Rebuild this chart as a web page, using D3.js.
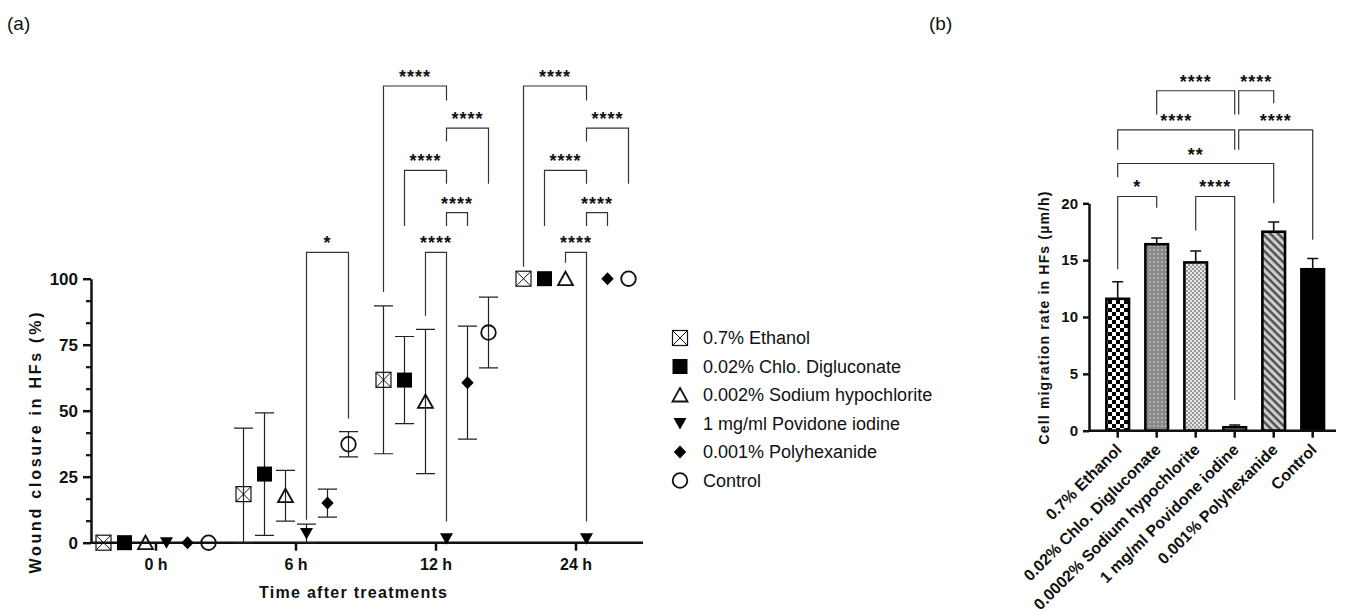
<!DOCTYPE html>
<html>
<head>
<meta charset="utf-8">
<script src="https://cdn.jsdelivr.net/npm/d3@7"></script>
<style>
  body { margin: 0; background: #fff; }
  svg text { font-family: Arial, "Liberation Sans", sans-serif; fill: #111; }
</style>
</head>
<body>
<div id="chart"></div>
<script>
// (a) wound closure over time
const times = ["0 h", "6 h", "12 h", "24 h"];
const treatments = ["0.7% Ethanol", "0.02% Chlo. Digluconate", "0.002% Sodium hypochlorite",
  "1 mg/ml Povidone iodine", "0.001% Polyhexanide", "Control"];
const closureMean = [
  [0, 18.4, 61.7, 100],
  [0, 26.0, 61.6, 100],
  [0, 17.8, 53.5, 100],
  [0, 3.5, 1.5, 1.5],
  [0, 15.0, 60.6, 100],
  [0, 37.3, 79.6, 100]
];
const closureSD = [
  [0, 25.0, 28.0, 0],
  [0, 23.2, 16.5, 0],
  [0, 9.6, 27.3, 0],
  [0, 3.5, 0, 0],
  [0, 5.3, 21.4, 0],
  [0, 4.8, 13.4, 0]
];
const closureTicks = [0, 25, 50, 75, 100];
// time, group a, group b, label, bracket level, leg end a, leg end b (all in % units)
const closureComparisons = [
  ["6 h", 3, 5, "*", 110, 8.7, 47],
  ["12 h", 2, 3, "****", 110, 86, 8],
  ["12 h", 3, 4, "****", 125, 120, 120],
  ["12 h", 1, 3, "****", 141, 120, 136],
  ["12 h", 3, 5, "****", 157, 152, 136],
  ["12 h", 0, 3, "****", 173, 95, 167.5],
  ["24 h", 2, 3, "****", 110, 106, 8],
  ["24 h", 3, 4, "****", 125, 120, 120],
  ["24 h", 1, 3, "****", 141, 120, 136],
  ["24 h", 3, 5, "****", 157, 152, 136],
  ["24 h", 0, 3, "****", 173, 104.5, 167.5]
];

// (b) migration rate
const barLabels = ["0.7% Ethanol", "0.02% Chlo. Digluconate", "0.0002% Sodium hypochlorite",
  "1 mg/ml Povidone iodine", "0.001% Polyhexanide", "Control"];
const migrationMean = [11.6, 16.4, 14.8, 0.3, 17.5, 14.2];
const migrationSD = [1.5, 0.55, 1.0, 0.2, 0.85, 0.95];
const migrationTicks = [0, 5, 10, 15, 20];
// group a, group b, label, bracket level, leg end a, leg end b (µm/h)
const migrationComparisons = [
  [0, 1, "*", 20.6, 14.2, 19.6],
  [2, 3, "****", 20.6, 17.6, 2.7],
  [0, 4, "**", 23.5, 22.3, 20.0],
  [0, 3, "****", 26.45, 24.7, 24.7],
  [3, 5, "****", 26.45, 24.7, 16.8],
  [1, 3, "****", 29.9, 27.8, 27.8],
  [3, 4, "****", 29.9, 27.8, 28.8]
];

const width = 1346, height = 612;

const svg = d3.select("#chart").append("svg")
  .attr("width", width)
  .attr("height", height);

// patterns for the bars
const defs = svg.append("defs");
const checker = defs.append("pattern").attr("id", "p0")
  .attr("patternUnits", "userSpaceOnUse").attr("width", 8).attr("height", 8);
checker.append("rect").attr("width", 8).attr("height", 8).attr("fill", "#fff");
checker.append("rect").attr("width", 4).attr("height", 4).attr("fill", "#000");
checker.append("rect").attr("x", 4).attr("y", 4).attr("width", 4).attr("height", 4).attr("fill", "#000");

const dots = defs.append("pattern").attr("id", "p1")
  .attr("patternUnits", "userSpaceOnUse").attr("width", 4).attr("height", 4);
dots.append("rect").attr("width", 4).attr("height", 4).attr("fill", "#888");
dots.append("circle").attr("cx", 2).attr("cy", 2).attr("r", 0.9).attr("fill", "#c4c4c4");

const fine = defs.append("pattern").attr("id", "p2")
  .attr("patternUnits", "userSpaceOnUse").attr("width", 4).attr("height", 4);
fine.append("rect").attr("width", 4).attr("height", 4).attr("fill", "#e8e8e8");
fine.append("rect").attr("width", 2).attr("height", 2).attr("fill", "#9a9a9a");
fine.append("rect").attr("x", 2).attr("y", 2).attr("width", 2).attr("height", 2).attr("fill", "#9a9a9a");

const hatch = defs.append("pattern").attr("id", "p4")
  .attr("patternUnits", "userSpaceOnUse").attr("width", 5.5).attr("height", 5.5)
  .attr("patternTransform", "rotate(-45)");
hatch.append("rect").attr("width", 5.5).attr("height", 5.5).attr("fill", "#cfcfcf");
hatch.append("line").attr("x1", 1.5).attr("x2", 1.5).attr("y1", 0).attr("y2", 5.5)
  .attr("stroke", "#444").attr("stroke-width", 2.2);

const barFills = ["url(#p0)", "url(#p1)", "url(#p2)", "#c4c4c4", "url(#p4)", "#000"];

// marker shapes for the six treatments
function marker(g, i) {
  if (i === 0) {
    g.append("rect").attr("x", -7.5).attr("y", -7.5).attr("width", 15).attr("height", 15)
      .attr("fill", "none").attr("stroke", "#111").attr("stroke-width", 1.2);
    g.append("path").attr("d", "M-7.5,-7.5L7.5,7.5M7.5,-7.5L-7.5,7.5")
      .attr("stroke", "#111").attr("stroke-width", 1);
  } else if (i === 1) {
    g.append("rect").attr("x", -7.5).attr("y", -7.5).attr("width", 15).attr("height", 15).attr("fill", "#000");
  } else if (i === 2) {
    g.append("path").attr("d", "M0,-7L7.5,6.5L-7.5,6.5Z")
      .attr("fill", "none").attr("stroke", "#111").attr("stroke-width", 1.8);
  } else if (i === 3) {
    g.append("path").attr("d", "M-6.5,-5.5L6.5,-5.5L0,6Z").attr("fill", "#000");
  } else if (i === 4) {
    g.append("path").attr("d", "M0,-6.5L6.2,0L0,6.5L-6.2,0Z").attr("fill", "#000");
  } else {
    g.append("circle").attr("r", 7.3)
      .attr("fill", "none").attr("stroke", "#111").attr("stroke-width", 1.8);
  }
}

function styleAxis(g, size) {
  g.attr("font-family", null).attr("font-size", null);
  g.selectAll("path, line").attr("stroke", "#111").attr("stroke-width", 2.5);
  g.selectAll("text").style("font-size", size + "px").style("font-weight", "bold");
}

svg.append("text").attr("x", 7).attr("y", 30).style("font-size", "19px").text("(a)");
svg.append("text").attr("x", 929).attr("y", 30).style("font-size", "19px").text("(b)");

// ---------- panel (a) ----------
const xA = d3.scaleBand().domain(times).range([86, 646]);
const xS = d3.scaleBand().domain(d3.range(treatments.length)).range([-63, 63]);
const yA = d3.scaleLinear().domain([0, 100]).range([542.7, 278.7]);
const px = (t, i) => xA(t) + xA.bandwidth() / 2 + xS(i) + xS.bandwidth() / 2;

// minor ticks on y
svg.append("g").attr("transform", "translate(91,0)")
  .call(d3.axisLeft(yA).tickValues(d3.range(0, 101, 25 / 3).filter(v => Math.abs(v % 25) > 0.1 && Math.abs(v % 25 - 25) > 0.1))
    .tickSize(5).tickFormat(""))
  .call(g => g.select(".domain").remove())
  .call(g => g.selectAll("line").attr("stroke", "#111").attr("stroke-width", 2.2));

const yAxisA = svg.append("g").attr("transform", "translate(91,0)")
  .call(d3.axisLeft(yA).tickValues(closureTicks).tickSize(8).tickSizeOuter(0).tickPadding(5));
styleAxis(yAxisA, 17);

const xAxisA = svg.append("g").attr("transform", `translate(0,${yA(0)})`)
  .call(d3.axisBottom(xA).tickSize(8).tickSizeOuter(0).tickPadding(8));
xAxisA.select(".domain").remove();
styleAxis(xAxisA, 16);
xAxisA.append("line").attr("x1", 91).attr("x2", 643)
  .attr("stroke", "#111").attr("stroke-width", 2.5);

svg.append("text")
  .attr("transform", `translate(41,443) rotate(-90)`)
  .attr("text-anchor", "middle")
  .attr("textLength", 261).attr("lengthAdjust", "spacing")
  .style("font-size", "16px").style("font-weight", "bold")
  .text("Wound closure in HFs (%)");

svg.append("text")
  .attr("x", 353).attr("y", 598)
  .attr("text-anchor", "middle")
  .attr("textLength", 188).attr("lengthAdjust", "spacing")
  .style("font-size", "16px").style("font-weight", "bold")
  .text("Time after treatments");

// error bars
const errA = svg.append("g").attr("stroke", "#222").attr("stroke-width", 1.2).attr("fill", "none");
treatments.forEach((name, i) => {
  times.forEach((t, j) => {
    const m = closureMean[i][j], sd = closureSD[i][j];
    if (sd <= 0) return;
    const x = px(t, i);
    const lo = yA(Math.max(0, m - sd)), hi = yA(m + sd);
    errA.append("path").attr("d", `M${x},${lo}V${hi}M${x - 9.5},${hi}H${x + 9.5}M${x - 9.5},${lo}H${x + 9.5}`);
  });
});

// markers
treatments.forEach((name, i) => {
  times.forEach((t, j) => {
    const g = svg.append("g").attr("transform", `translate(${px(t, i)},${yA(closureMean[i][j])})`);
    marker(g, i);
  });
});

// significance brackets
const brA = svg.append("g");
closureComparisons.forEach(([t, a, b, label, level, la, lb]) => {
  const xa = px(t, a), xb = px(t, b), yl = yA(level);
  brA.append("path")
    .attr("d", `M${xa},${yA(la)}V${yl}H${xb}V${yA(lb)}`)
    .attr("fill", "none").attr("stroke", "#333").attr("stroke-width", 1.2);
  brA.append("text")
    .attr("x", (xa + xb) / 2).attr("y", yl - 3)
    .attr("text-anchor", "middle")
    .style("font-size", "18px").style("font-weight", "bold").style("letter-spacing", "1px")
    .text(label);
});

// legend
const legend = svg.append("g");
treatments.forEach((name, i) => {
  const y = 338 + i * 28.5;
  const g = legend.append("g").attr("transform", `translate(680,${y})`);
  marker(g, i);
  legend.append("text").attr("x", 703).attr("y", y).attr("dy", "0.35em")
    .style("font-size", "18px").text(name);
});

// ---------- panel (b) ----------
const xB = d3.scaleBand().domain(barLabels).range([1098.2, 1332.2]).paddingInner(0.42).paddingOuter(0.21);
const yB = d3.scaleLinear().domain([0, 20]).range([430.7, 203.3]);
const cx = i => xB(barLabels[i]) + xB.bandwidth() / 2;

svg.append("g").selectAll("rect")
  .data(migrationMean)
  .join("rect")
  .attr("x", (d, i) => xB(barLabels[i]))
  .attr("y", d => yB(d))
  .attr("width", xB.bandwidth())
  .attr("height", d => yB(0) - yB(d))
  .attr("fill", (d, i) => barFills[i])
  .attr("stroke", "#000").attr("stroke-width", 2.6);

// upward error bars
svg.append("g").selectAll("path")
  .data(migrationMean)
  .join("path")
  .attr("d", (d, i) => {
    const x = cx(i), top = yB(d + migrationSD[i]);
    return `M${x},${yB(d)}V${top}M${x - 5.5},${top}H${x + 5.5}`;
  })
  .attr("fill", "none").attr("stroke", "#111").attr("stroke-width", 1.6);

const yAxisB = svg.append("g").attr("transform", "translate(1089,0)")
  .call(d3.axisLeft(yB).tickValues(migrationTicks).tickSize(6).tickSizeOuter(0).tickPadding(5));
styleAxis(yAxisB, 15);

const xAxisB = svg.append("g").attr("transform", `translate(0,${yB(0)})`)
  .call(d3.axisBottom(xB).tickSize(7).tickSizeOuter(0));
xAxisB.select(".domain").remove();
styleAxis(xAxisB, 16);
xAxisB.selectAll("text")
  .attr("text-anchor", "end")
  .attr("y", 0).attr("dy", 0)
  .attr("transform", "translate(5,20) rotate(-45)");
xAxisB.append("line").attr("x1", 1089).attr("x2", 1336)
  .attr("stroke", "#111").attr("stroke-width", 2.5);

svg.append("text")
  .attr("transform", `translate(1049,318) rotate(-90)`)
  .attr("text-anchor", "middle")
  .attr("textLength", 253).attr("lengthAdjust", "spacing")
  .style("font-size", "14px").style("font-weight", "bold")
  .text("Cell migration rate in HFs (µm/h)");

const brB = svg.append("g");
migrationComparisons.forEach(([a, b, label, level, la, lb]) => {
  const xa = cx(a) + (a === 3 ? 4 : 0), xb = cx(b), yl = yB(level);
  brB.append("path")
    .attr("d", `M${xa},${yB(la)}V${yl}H${xb}V${yB(lb)}`)
    .attr("fill", "none").attr("stroke", "#333").attr("stroke-width", 1.2);
  brB.append("text")
    .attr("x", (xa + xb) / 2).attr("y", yl - 3)
    .attr("text-anchor", "middle")
    .style("font-size", "18px").style("font-weight", "bold").style("letter-spacing", "1px")
    .text(label);
});
</script>
</body>
</html>
